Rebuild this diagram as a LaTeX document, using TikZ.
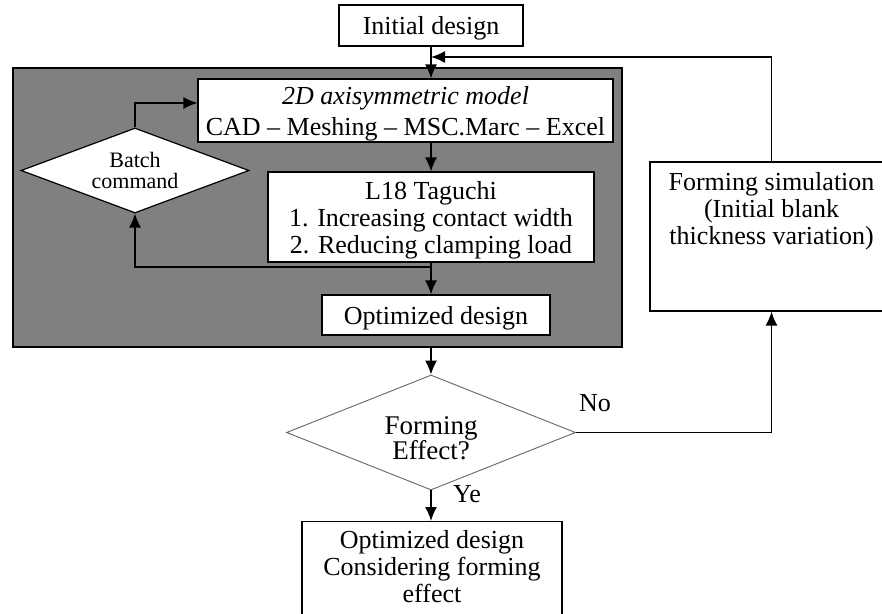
\documentclass[tikz,border=0pt]{standalone}
\usepackage{fontspec}
\setmainfont{Liberation Serif}
\usetikzlibrary{shapes.geometric, arrows.meta}

\begin{document}
\begin{tikzpicture}[x = 1pt, y = -1pt, > = {Latex[length = 14pt, width = 12pt]},
	font = \fontsize{26}{27}\selectfont,
	box/.style = {draw, line width = 1.2pt, fill = white, align = center, text depth = 0pt},
	choice/.style = {diamond, draw, fill = white, align = center, inner sep = 0pt, text depth = 0pt},
	link/.style = {->, line width = 1.5pt}]

	\useasboundingbox (0, 0) rectangle (882, 613);

	\node [draw, line width = 2.5pt, fill = gray, minimum width = 609, minimum height = 279, inner sep = 0pt] (stage) at (317.5, 207.5) {};

	\node [box, minimum width = 184, minimum height = 41, inner sep = 0pt] (init) at (431, 25.5) {Initial design};

	\node [box, minimum width = 415, minimum height = 63, inner sep = 0pt] (model) at (405.5, 110.5) {\textit{2D axisymmetric model}\\[4pt]CAD -- Meshing -- MSC.Marc -- Excel};

	\node [box, minimum width = 326, minimum height = 90, inner sep = 0pt] (taguchi) at (431, 217) {L18 Taguchi\\1. Increasing contact width\\2. Reducing clamping load};

	\node [choice, line width = 1.2pt, aspect = 2.68, minimum width = 228, minimum height = 85, font = \fontsize{22}{21}\selectfont] (batch) at (135, 170.5) {Batch\\command};

	\node [box, minimum width = 228, minimum height = 40, inner sep = 0pt] (opt) at (436, 315) {Optimized design};

	\node [choice, draw = black!60, line width = 0.9pt, aspect = 2.51, minimum width = 289, minimum height = 115, text height = 54pt, font = \fontsize{27}{25}\selectfont] (decision) at (431, 432.5) {Forming\\Effect?};

	\node [box, minimum width = 243, minimum height = 149] (sim) at (771.5, 236.5) {};
	\node [anchor = north, align = center, yshift = -8pt] (simtext) at (sim.north) {Forming simulation\\(Initial blank\\thickness variation)};

	\node [box, minimum width = 260, minimum height = 110, anchor = north] (result) at (432, 521) {};
	\node [anchor = north, align = center, yshift = -6pt] (resulttext) at (result.north) {Optimized design\\Considering forming\\effect};

	\node (no) at (595, 403) {No};
	\node (yes) at (467, 494) {Ye};

	\coordinate (join) at (431, 57);
	\coordinate (split) at (431, 267);

	\draw [link] (init.south) -- (init.south |- model.north);

	\draw [link] (sim.north) |- (join);

	\draw [link] (taguchi.north |- model.south) -- (taguchi.north);

	\draw [link] (taguchi.south) -- (taguchi.south |- opt.north);

	\draw [link] (split) -| (batch.south);

	\draw [link] (batch.north) |- ([yshift = 7.5pt] model.west);

	\draw [link] (decision.north |- stage.south) -- (decision.north);

	\draw [link] (decision.east) -| (sim.south);

	\draw [link] (decision.south) -- (decision.south |- result.north);

\end{tikzpicture}
\end{document}
